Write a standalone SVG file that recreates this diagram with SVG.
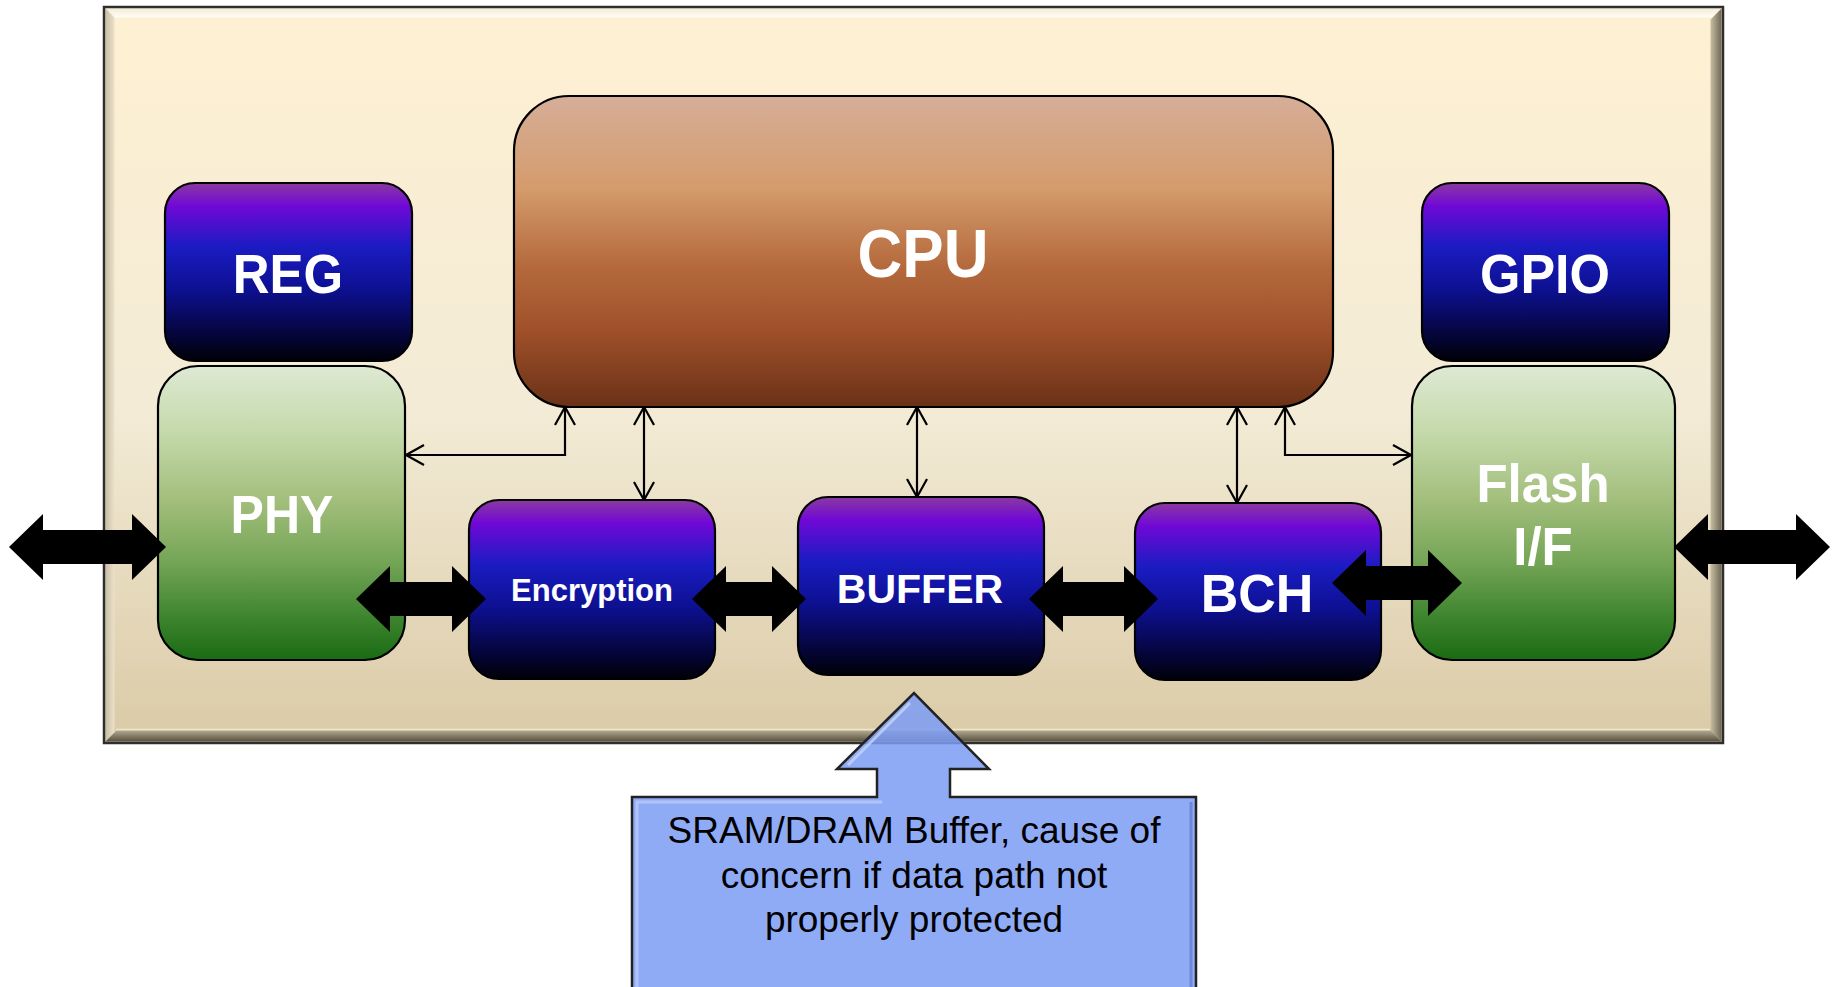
<svg xmlns="http://www.w3.org/2000/svg" width="1835" height="987" viewBox="0 0 1835 987">
  <style>
    .lbl { font-family: 'Liberation Sans', Arial, Helvetica, sans-serif; font-weight: bold; fill: #ffffff; text-anchor: middle; }
    .note { font-family: 'Liberation Sans', Arial, Helvetica, sans-serif; fill: #000000; text-anchor: middle; font-size: 37px; }
    .node { stroke: #000000; stroke-width: 2.2; }
    .wire { fill: none; stroke: #000000; stroke-width: 2.2; }
    .bus { fill: #000000; }
  </style>
  <defs>
    <linearGradient id="gPanel" x1="0" y1="0" x2="0" y2="1">
      <stop offset="0" stop-color="#fef0d2"/>
      <stop offset="0.55" stop-color="#f3ebd6"/>
      <stop offset="1" stop-color="#dacaa6"/>
    </linearGradient>
    <linearGradient id="gBevelTop" x1="0" y1="0" x2="0" y2="1">
      <stop offset="0" stop-color="#f4ecd8"/>
      <stop offset="1" stop-color="#fffdf6"/>
    </linearGradient>
    <linearGradient id="gBevelLeft" x1="0" y1="0" x2="1" y2="0">
      <stop offset="0" stop-color="#c9bfa6"/>
      <stop offset="1" stop-color="#ebe2c9"/>
    </linearGradient>
    <linearGradient id="gBevelRight" x1="0" y1="0" x2="1" y2="0">
      <stop offset="0" stop-color="#c7bea4"/>
      <stop offset="1" stop-color="#6e6754"/>
    </linearGradient>
    <linearGradient id="gBevelBottom" x1="0" y1="0" x2="0" y2="1">
      <stop offset="0" stop-color="#b3a98f"/>
      <stop offset="1" stop-color="#565040"/>
    </linearGradient>
    <linearGradient id="gCpu" x1="0" y1="0" x2="0" y2="1">
      <stop offset="0" stop-color="#d6ae99"/>
      <stop offset="0.3" stop-color="#d49b6b"/>
      <stop offset="0.55" stop-color="#b4693c"/>
      <stop offset="0.75" stop-color="#a0512a"/>
      <stop offset="1" stop-color="#6a3117"/>
    </linearGradient>
    <linearGradient id="gBlue" x1="0" y1="0" x2="0" y2="1">
      <stop offset="0" stop-color="#8a3aa0"/>
      <stop offset="0.13" stop-color="#7008d6"/>
      <stop offset="0.36" stop-color="#1a1cc2"/>
      <stop offset="0.6" stop-color="#0d1090"/>
      <stop offset="0.85" stop-color="#05053c"/>
      <stop offset="1" stop-color="#000008"/>
    </linearGradient>
    <linearGradient id="gGreen" x1="0" y1="0" x2="0" y2="1">
      <stop offset="0" stop-color="#dee9d3"/>
      <stop offset="0.22" stop-color="#c5daac"/>
      <stop offset="0.45" stop-color="#a4bf7d"/>
      <stop offset="0.66" stop-color="#76a657"/>
      <stop offset="0.85" stop-color="#3f852f"/>
      <stop offset="1" stop-color="#1a6b14"/>
    </linearGradient>
    <marker id="openArrow" viewBox="0 0 20 22" refX="19" refY="11" markerWidth="20" markerHeight="22" markerUnits="userSpaceOnUse" orient="auto-start-reverse">
      <path d="M1,1 L19,11 L1,21" fill="none" stroke="#000000" stroke-width="2.2"/>
    </marker>
  </defs>

  <rect width="1835" height="987" fill="#ffffff"/>

  <!-- controller die outline with bevelled frame -->
  <g id="panel">
    <rect x="104" y="7" width="1619" height="736" fill="url(#gPanel)"/>
    <polygon points="105.5,8.5 1721.5,8.5 1712.5,17.5 114.5,17.5" fill="url(#gBevelTop)"/>
    <polygon points="105.5,8.5 114.5,17.5 114.5,732.5 105.5,741.5" fill="url(#gBevelLeft)"/>
    <polygon points="1721.5,8.5 1721.5,741.5 1710.5,730.5 1710.5,19.5" fill="url(#gBevelRight)"/>
    <polygon points="105.5,741.5 116.5,730.5 1710.5,730.5 1721.5,741.5" fill="url(#gBevelBottom)"/>
    <line x1="116" y1="729.5" x2="1710" y2="729.5" stroke="#eee6cf" stroke-width="1.5"/>
    <rect x="104" y="7" width="1619" height="736" fill="none" stroke="#2e2e2e" stroke-width="2.5"/>
  </g>

  <g id="cpu">
    <rect class="node" x="514" y="96" width="819" height="311" rx="55" ry="55" fill="url(#gCpu)"/>
    <text class="lbl" font-size="62" transform="translate(923,277) scale(1,1.1)">CPU</text>
  </g>

  <g id="reg">
    <rect class="node" x="165" y="183" width="247" height="178" rx="30" ry="30" fill="url(#gBlue)"/>
    <text class="lbl" font-size="51" transform="translate(288,293) scale(1,1.1)">REG</text>
  </g>

  <g id="gpio">
    <rect class="node" x="1422" y="183" width="247" height="178" rx="30" ry="30" fill="url(#gBlue)"/>
    <text class="lbl" font-size="52" transform="translate(1545,293) scale(1,1.08)">GPIO</text>
  </g>

  <g id="phy">
    <rect class="node" x="158" y="366" width="247" height="294" rx="40" ry="40" fill="url(#gGreen)"/>
    <text class="lbl" font-size="50" transform="translate(282,533) scale(1,1.06)">PHY</text>
  </g>

  <g id="flash-if">
    <rect class="node" x="1412" y="366" width="263" height="294" rx="40" ry="40" fill="url(#gGreen)"/>
    <text class="lbl" font-size="51" transform="translate(1543,502) scale(1,1.05)">Flash</text>
    <text class="lbl" font-size="51" transform="translate(1543,565) scale(1,1.05)">I/F</text>
  </g>

  <g id="encryption">
    <rect class="node" x="469" y="500" width="246" height="179" rx="30" ry="30" fill="url(#gBlue)"/>
    <text class="lbl" font-size="31" x="592" y="601">Encryption</text>
  </g>

  <g id="buffer">
    <rect class="node" x="798" y="497" width="246" height="178" rx="30" ry="30" fill="url(#gBlue)"/>
    <text class="lbl" font-size="41" x="920" y="603">BUFFER</text>
  </g>

  <g id="bch">
    <rect class="node" x="1135" y="503" width="246" height="177" rx="30" ry="30" fill="url(#gBlue)"/>
    <text class="lbl" font-size="52" transform="translate(1257,612) scale(1,1.04)">BCH</text>
  </g>

  <g id="connectors">
    <!-- CPU control bus (thin, bidirectional) -->
    <path class="wire" d="M565,407 L565,455 L406,455" marker-start="url(#openArrow)" marker-end="url(#openArrow)"/>
    <path class="wire" d="M644,407 L644,500" marker-start="url(#openArrow)" marker-end="url(#openArrow)"/>
    <path class="wire" d="M917,407 L917,497" marker-start="url(#openArrow)" marker-end="url(#openArrow)"/>
    <path class="wire" d="M1237,407 L1237,503" marker-start="url(#openArrow)" marker-end="url(#openArrow)"/>
    <path class="wire" d="M1285,407 L1285,455 L1411,455" marker-start="url(#openArrow)" marker-end="url(#openArrow)"/>

    <!-- data path (thick, bidirectional) -->
    <polygon class="bus" points="9,547 43,514 43,530 132,530 132,514 166,547 132,580 132,564 43,564 43,580"/>
    <polygon class="bus" points="356,599 390,566 390,582 452,582 452,566 486,599 452,632 452,616 390,616 390,632"/>
    <polygon class="bus" points="692,599 726,566 726,582 772,582 772,566 806,599 772,632 772,616 726,616 726,632"/>
    <polygon class="bus" points="1029,599 1063,566 1063,582 1124,582 1124,566 1158,599 1124,632 1124,616 1063,616 1063,632"/>
    <polygon class="bus" points="1332,583 1366,550 1366,566 1428,566 1428,550 1462,583 1428,616 1428,600 1366,600 1366,616"/>
    <polygon class="bus" points="1674,547 1708,514 1708,530 1796,530 1796,514 1830,547 1796,580 1796,564 1708,564 1708,580"/>
  </g>

  <g id="callout">
    <polygon points="632,797 877,797 877,769 837,769 914,693 989,769 950,769 950,797 1196,797 1196,995 632,995" fill="#7c9cf4" fill-opacity="0.85" stroke="#222222" stroke-width="2.5" stroke-linejoin="miter"/>
    <polyline points="637,990 637,802 882,802" fill="none" stroke="#b9cbfb" stroke-width="3" opacity="0.8"/>
    <line x1="1191" y1="802" x2="1191" y2="990" stroke="#5f7dcf" stroke-width="3" opacity="0.7"/>
    <line x1="848" y1="765" x2="910" y2="703" stroke="#c9d8fb" stroke-width="3" opacity="0.75"/>
    <text class="note" x="914" y="843">SRAM/DRAM Buffer, cause of</text>
    <text class="note" x="914" y="888">concern if data path not</text>
    <text class="note" x="914" y="932">properly protected</text>
  </g>
</svg>
